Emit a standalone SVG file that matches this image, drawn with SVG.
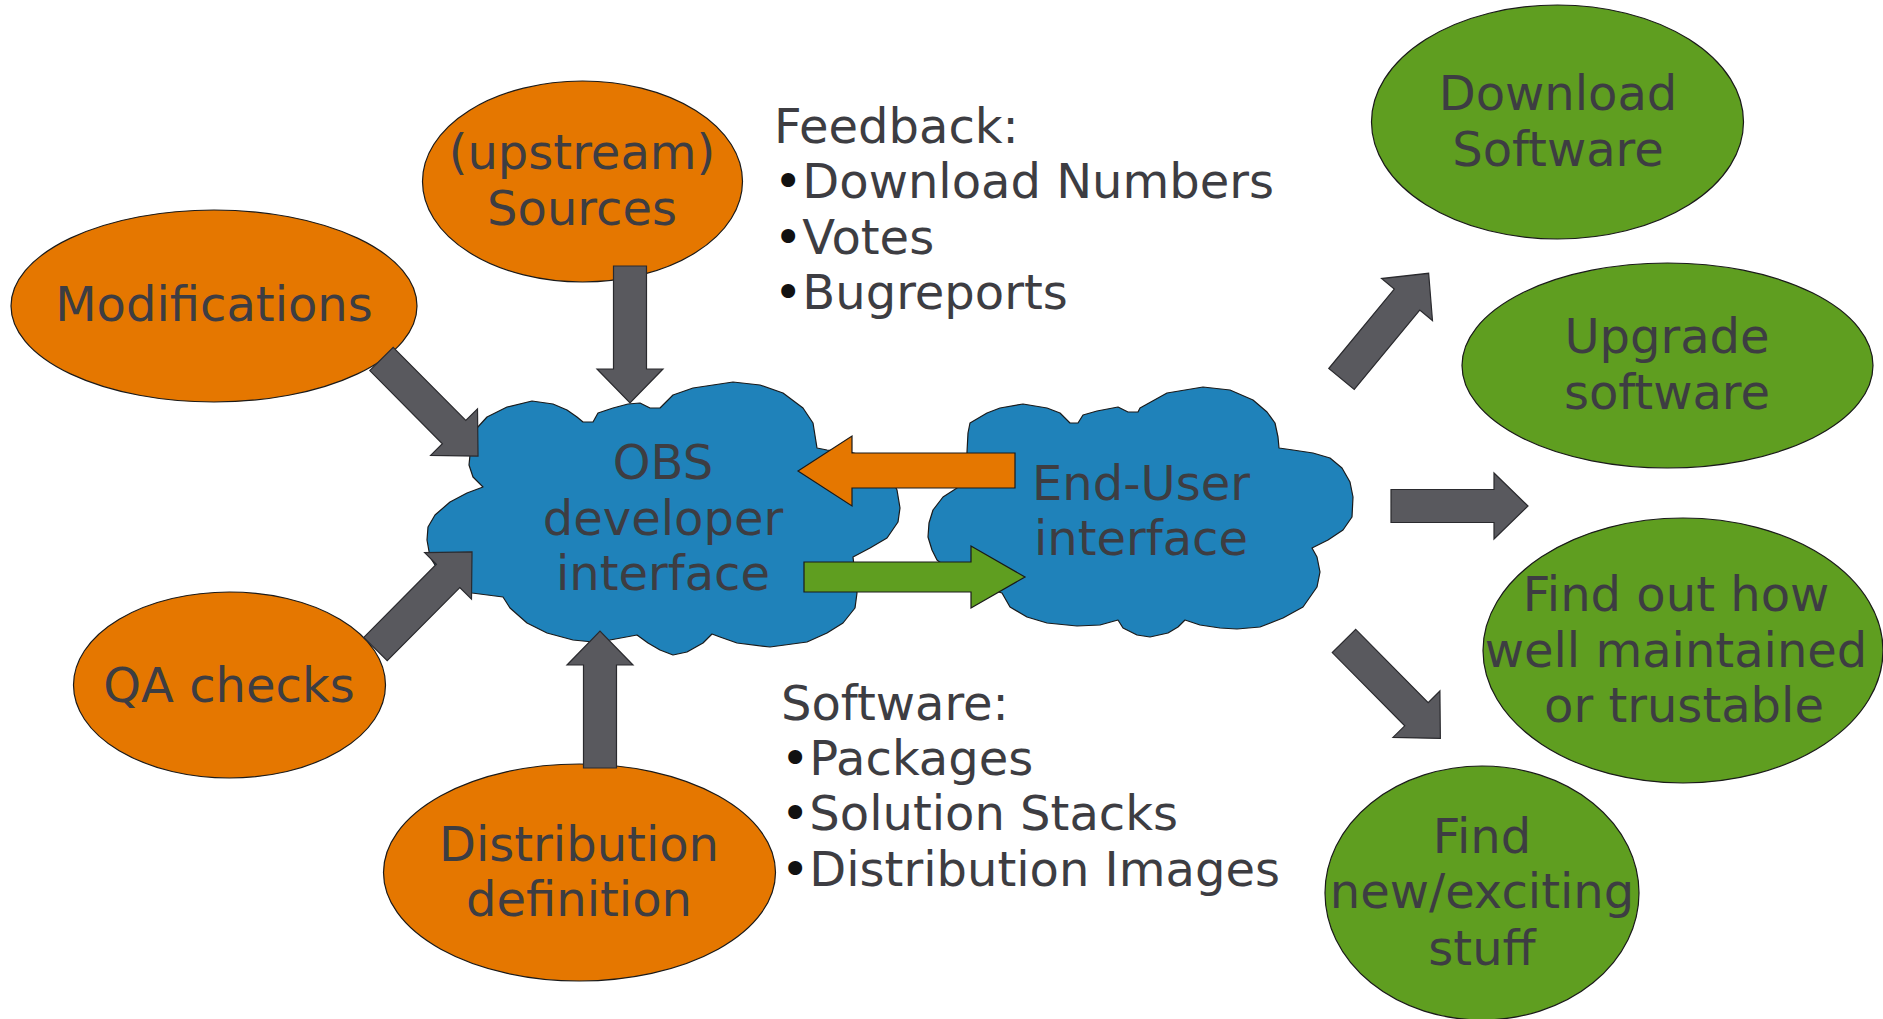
<svg xmlns="http://www.w3.org/2000/svg" width="1883" height="1019" viewBox="0 0 1883 1019">
<style>
  .src { fill: #e57700; stroke: #1a1a1a; stroke-width: 1.2; }
  .tgt { fill: #5f9e20; stroke: #1a1a1a; stroke-width: 1.2; }
  .cloud { fill: #1f82ba; stroke: #1a1a1a; stroke-width: 1.2; stroke-linejoin: round; }
  .garrow { fill: #59595e; stroke: #2a2a2e; stroke-width: 1.2; }
  .oarrow { fill: #e57700; stroke: #1a1a1a; stroke-width: 1.2; }
  .grarrow { fill: #5f9e20; stroke: #1a1a1a; stroke-width: 1.2; }
  text { font-family: "DejaVu Sans", "Liberation Sans", sans-serif; font-size: 48px; fill: #3d3d42; }
  .c { text-anchor: middle; }
  .b { fill: #111111; }
</style>
<defs>
  <polygon id="ga" points="0,-16.5 103,-16.5 103,-33 137,0 103,33 103,16.5 0,16.5"/>
</defs>
<rect width="1883" height="1019" fill="#ffffff"/>

<g id="node-modifications">
  <ellipse class="src" cx="214" cy="306" rx="203" ry="96"/>
  <text class="c" x="214" y="321">Modifications</text>
</g>
<g id="node-sources">
  <ellipse class="src" cx="582.5" cy="181.5" rx="160" ry="100.5"/>
  <text class="c" x="582" y="169">(upstream)</text>
  <text class="c" x="582" y="225">Sources</text>
</g>
<g id="node-qa">
  <ellipse class="src" cx="229.5" cy="685" rx="156" ry="93"/>
  <text class="c" x="229" y="702">QA checks</text>
</g>
<g id="node-distribution">
  <ellipse class="src" cx="579.5" cy="872.5" rx="196" ry="108.5"/>
  <text class="c" x="579" y="861">Distribution</text>
  <text class="c" x="579" y="916">definition</text>
</g>
<g id="node-obs">
  <path class="cloud" d="M477,428 L487,417 L507,407 L532,401 L553,404 L567,410 L577,417 L583,422 L593,422 L598,413 L613,408 L628,404 L640,403 L650,408 L660,408 L673,395 L693,388 L733,382 L760,385 L783,393 L803,408 L813,423 L817,448 L827,450 L850,452 L872,458 L887,470 L897,490 L900,508 L898,522 L887,538 L870,548 L853,557 L855,575 L857,593 L855,608 L843,623 L827,633 L807,642 L770,647 L737,643 L720,637 L712,634 L703,643 L687,652 L673,655 L660,650 L648,643 L637,635 L610,640 L593,642 L573,640 L547,633 L527,623 L510,608 L503,597 L472,593 L455,585 L442,574 L435,565 L430,557 L427,540 L428,527 L435,515 L450,502 L467,493 L483,487 L473,477 L469,465 L470,455 L472,440 Z"/>
  <text class="c" x="663" y="479">OBS</text>
  <text class="c" x="663" y="535">developer</text>
  <text class="c" x="663" y="590">interface</text>
</g>
<g id="node-enduser">
  <path class="cloud" d="M968,433 L970,423 L987,413 L1000,408 L1023,404 L1047,408 L1060,413 L1070,423 L1078,423 L1083,415 L1097,411 L1118,407 L1128,412 L1138,412 L1140,408 L1167,393 L1203,387 L1230,390 L1253,400 L1267,412 L1275,423 L1278,437 L1279,448 L1293,450 L1313,453 L1330,458 L1342,468 L1350,482 L1353,497 L1352,517 L1343,530 L1328,540 L1312,548 L1317,557 L1320,572 L1317,587 L1303,607 L1283,618 L1260,627 L1237,629 L1220,628 L1200,625 L1185,620 L1178,627 L1168,633 L1150,637 L1137,635 L1123,628 L1118,620 L1100,625 L1077,626 L1047,623 L1027,617 L1010,607 L1002,593 L985,588 L960,578 L937,560 L932,550 L928,537 L929,523 L933,510 L943,497 L957,488 L966,470 L967,452 Z"/>
  <text class="c" x="1141" y="500">End-User</text>
  <text class="c" x="1141" y="555">interface</text>
</g>
<g id="node-download">
  <ellipse class="tgt" cx="1557.5" cy="122" rx="186" ry="117"/>
  <text class="c" x="1558" y="110">Download</text>
  <text class="c" x="1558" y="166">Software</text>
</g>
<g id="node-upgrade">
  <ellipse class="tgt" cx="1667.5" cy="365.5" rx="205.5" ry="102.5"/>
  <text class="c" x="1667" y="353">Upgrade</text>
  <text class="c" x="1667" y="409">software</text>
</g>
<g id="node-maintained">
  <ellipse class="tgt" cx="1683" cy="650.5" rx="200" ry="132.5"/>
  <text class="c" x="1676" y="611">Find out how</text>
  <text class="c" x="1676" y="667">well maintained</text>
  <text class="c" x="1684" y="722">or trustable</text>
</g>
<g id="node-new">
  <ellipse class="tgt" cx="1482" cy="893" rx="157" ry="127"/>
  <text class="c" x="1482" y="853">Find</text>
  <text class="c" x="1482" y="908">new/exciting</text>
  <text class="c" x="1482" y="965">stuff</text>
</g>

<g id="connectors">
  <use href="#ga" class="garrow" transform="translate(630,266) rotate(90)"/>
  <use href="#ga" class="garrow" transform="translate(381.5,359) rotate(45.2)"/>
  <use href="#ga" class="garrow" transform="translate(375.5,649) rotate(-45.2)"/>
  <use href="#ga" class="garrow" transform="translate(600,768) rotate(-90)"/>
  <use href="#ga" class="garrow" transform="translate(1341.5,379) rotate(-50.5)"/>
  <use href="#ga" class="garrow" transform="translate(1391,506) rotate(0)"/>
  <use href="#ga" class="garrow" transform="translate(1344,641) rotate(45.3)"/>
  <polygon class="oarrow" points="1015,453 852,453 852,436 798,471 852,506 852,488 1015,488"/>
  <polygon class="grarrow" points="804,562 971,562 971,546 1025,577 971,608 971,592 804,592"/>
</g>

<g id="feedback-label">
  <text x="774" y="143">Feedback:</text>
  <text x="774" y="198"><tspan class="b">•</tspan>Download Numbers</text>
  <text x="774" y="254"><tspan class="b">•</tspan>Votes</text>
  <text x="774" y="309"><tspan class="b">•</tspan>Bugreports</text>
</g>
<g id="software-label">
  <text x="781" y="720">Software:</text>
  <text x="781" y="775"><tspan class="b">•</tspan>Packages</text>
  <text x="781" y="830"><tspan class="b">•</tspan>Solution Stacks</text>
  <text x="781" y="886"><tspan class="b">•</tspan>Distribution Images</text>
</g>
</svg>
